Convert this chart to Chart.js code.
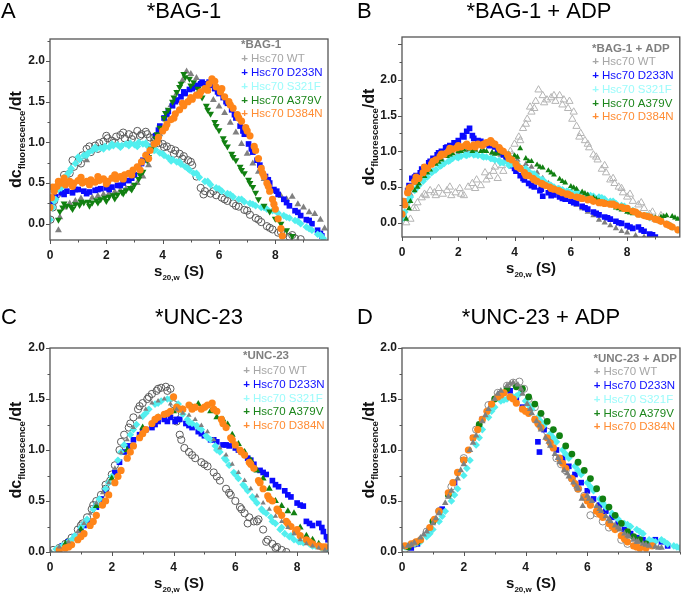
<!DOCTYPE html>
<html>
<head>
<meta charset="utf-8">
<script src="https://cdn.jsdelivr.net/npm/chart.js@4.4.0/dist/chart.umd.min.js"></script>
<style>
  body { margin: 0; background: #fff; width: 685px; height: 599px; position: relative; overflow: hidden; }
  canvas { position: absolute; }
</style>
</head>
<body>
<canvas id="chartA" style="left:0;top:0"></canvas>
<canvas id="chartB" style="left:342px;top:0"></canvas>
<canvas id="chartC" style="left:0;top:300px"></canvas>
<canvas id="chartD" style="left:342px;top:300px"></canvas>
<script>
// ---- labels ----
const panelLetters = ['A', 'B', 'C', 'D'];
const panelTitles = ['*BAG-1', '*BAG-1 + ADP', '*UNC-23', '*UNC-23 + ADP'];
const seriesNames = ['Hsc70 WT', 'Hsc70 D233N', 'Hsc70 S321F', 'Hsc70 A379V', 'Hsc70 D384N'];

// ---- panel A: *BAG-1 ----
const aRef = [[0.02,0.05],[0.1,0.2],[0.25,0.36],[0.4,0.48],[0.55,0.56],[0.7,0.62],[0.85,0.7],[1.0,0.76],[1.15,0.84],[1.3,0.92],[1.45,0.88],[1.6,0.96],[1.75,0.99],[1.9,1.01],[2.05,1.05],[2.2,1.02],[2.35,1.07],[2.5,1.09],[2.65,1.05],[2.8,1.1],[2.95,1.08],[3.1,1.14],[3.25,1.1],[3.4,1.13],[3.55,1.06],[3.7,1.02],[3.85,0.99],[4.0,0.98],[4.15,0.95],[4.3,0.92],[4.45,0.9],[4.6,0.86],[4.75,0.83],[4.9,0.78],[5.05,0.72],[5.2,0.58],[5.35,0.44],[5.5,0.4],[5.7,0.37],[5.9,0.35],[6.1,0.32],[6.3,0.28],[6.5,0.25],[6.7,0.21],[6.9,0.17],[7.1,0.11],[7.3,0.07],[7.5,0.02],[7.7,-0.03],[7.9,-0.07],[8.1,-0.11],[8.3,-0.13],[8.5,-0.16],[8.7,-0.18],[8.9,-0.19],
  [0.15,0.28],[0.5,0.6],[0.8,0.78],[1.1,0.74],[1.4,0.95],[1.7,0.92],[2.0,1.08],[2.3,1.0],[2.6,1.12],[2.9,1.04],[3.2,1.08],[3.45,1.1],[3.7,1.06],[4.05,0.94],[4.4,0.86],[4.7,0.8],[5.0,0.76],[5.45,0.36],[5.8,0.4],[6.2,0.3],[6.6,0.22],[7.0,0.16],[7.4,0.05],[7.8,-0.05],[8.2,-0.1],[8.6,-0.14]];
const aWT = [[0.3,-0.08],[0.35,0.08],[0.5,0.2],[0.7,0.25],[0.9,0.28],[1.1,0.31],[1.3,0.78],[1.5,0.32],[1.7,0.34],[1.9,0.36],[2.1,0.37],[2.3,0.39],[2.5,0.41],[2.7,0.43],[2.9,0.45],[3.1,0.5],[3.3,0.58],[3.5,0.72],[3.7,0.92],[3.9,1.1],[4.1,1.28],[4.3,1.46],[4.5,1.6],[4.7,1.76],[4.85,1.87],[5.0,1.84],[5.2,1.79],[5.4,1.72],[5.6,1.63],[5.8,1.52],[6.0,1.44],[6.2,1.36],[6.4,1.24],[6.6,1.12],[6.8,0.98],[7.0,0.86],[7.2,0.74],[7.4,0.64],[7.6,0.55],[7.8,0.47],[8.0,0.4],[8.2,0.34],[8.4,0.3],[8.6,0.33],[8.8,0.24],[9.0,0.2],[9.2,0.14],[9.4,0.12],[9.6,0.05],[9.75,-0.06]];
const aD233N = [[0.05,0.22],[0.2,0.33],[0.4,0.38],[0.6,0.4],[0.8,0.38],[1.0,0.42],[1.2,0.4],[1.4,0.39],[1.6,0.41],[1.8,0.43],[2.0,0.44],[2.2,0.45],[2.4,0.47],[2.6,0.5],[2.8,0.53],[3.0,0.6],[3.15,0.7],[3.3,0.78],[3.45,0.85],[3.6,0.95],[3.75,1.08],[3.9,1.2],[4.05,1.3],[4.2,1.38],[4.35,1.45],[4.5,1.52],[4.65,1.56],[4.8,1.6],[4.95,1.65],[5.1,1.68],[5.25,1.7],[5.4,1.74],[5.55,1.72],[5.7,1.7],[5.85,1.66],[6.0,1.6],[6.15,1.55],[6.3,1.48],[6.45,1.4],[6.6,1.3],[6.75,1.2],[6.9,1.1],[7.05,0.98],[7.2,0.88],[7.35,0.78],[7.5,0.68],[7.65,0.58],[7.8,0.5],[7.95,0.42],[8.1,0.36],[8.3,0.3],[8.5,0.22],[8.7,0.16],[8.9,0.1],[9.1,0.05],[9.3,0.0],[9.5,-0.08],[9.65,-0.15],
  [0.1,0.28],[0.5,0.36],[0.9,0.42],[1.3,0.37],[1.7,0.42],[2.1,0.42],[2.5,0.47],[2.9,0.56],[3.25,0.74],[3.55,0.92],[3.85,1.15],[4.15,1.34],[4.45,1.5],[4.75,1.62],[5.05,1.66],[5.35,1.72],[5.65,1.74],[5.95,1.62],[6.25,1.5],[6.55,1.34],[6.85,1.14],[7.15,0.92],[7.45,0.72],[7.75,0.54],[8.05,0.4],[8.4,0.26],[8.8,0.14],[9.2,0.04],[9.6,-0.12]];
const aS321F = [[0.0,0.05],[0.1,0.2],[0.2,0.3],[0.3,0.42],[0.45,0.52],[0.6,0.6],[0.75,0.68],[0.9,0.74],[1.05,0.79],[1.2,0.84],[1.35,0.87],[1.5,0.9],[1.65,0.92],[1.8,0.93],[1.95,0.95],[2.1,0.94],[2.25,0.96],[2.4,0.97],[2.55,0.96],[2.7,0.98],[2.85,0.99],[3.0,0.97],[3.15,1.0],[3.3,0.98],[3.45,0.96],[3.6,0.94],[3.75,0.91],[3.9,0.87],[4.05,0.84],[4.2,0.81],[4.35,0.79],[4.5,0.76],[4.65,0.73],[4.8,0.7],[4.95,0.66],[5.1,0.62],[5.3,0.57],[5.5,0.52],[5.7,0.48],[5.9,0.44],[6.1,0.4],[6.3,0.37],[6.5,0.33],[6.7,0.3],[6.9,0.27],[7.1,0.25],[7.3,0.22],[7.5,0.2],[7.7,0.18],[7.9,0.16],[8.1,0.13],[8.3,0.1],[8.5,0.07],[8.7,0.04],[8.9,0.0],[9.1,-0.04],[9.3,-0.08],[9.5,-0.13],[9.7,-0.18],
  [0.15,0.28],[0.4,0.44],[0.7,0.64],[1.0,0.82],[1.3,0.84],[1.6,0.94],[1.9,0.92],[2.2,0.98],[2.5,0.94],[2.8,0.96],[3.1,0.95],[3.4,0.99],[3.7,0.9],[4.0,0.86],[4.3,0.77],[4.6,0.76],[4.9,0.68],[5.2,0.62],[5.6,0.52],[6.0,0.43],[6.4,0.36],[6.8,0.3],[7.2,0.24],[7.6,0.2],[8.0,0.16],[8.4,0.08],[8.8,0.03],[9.2,-0.06],[9.6,-0.14]];
const aA379V = [[0.3,0.05],[0.35,0.15],[0.45,0.2],[0.6,0.22],[0.75,0.21],[0.9,0.24],[1.05,0.23],[1.2,0.26],[1.35,0.27],[1.5,0.26],[1.65,0.29],[1.8,0.3],[1.95,0.32],[2.1,0.33],[2.25,0.35],[2.4,0.36],[2.55,0.39],[2.7,0.41],[2.85,0.44],[3.0,0.48],[3.15,0.55],[3.3,0.64],[3.45,0.78],[3.6,0.92],[3.75,1.05],[3.9,1.18],[4.05,1.3],[4.2,1.4],[4.35,1.5],[4.5,1.62],[4.65,1.72],[4.8,1.8],[4.95,1.78],[5.1,1.74],[5.25,1.66],[5.4,1.55],[5.55,1.45],[5.7,1.35],[5.85,1.25],[6.0,1.15],[6.15,1.05],[6.3,0.95],[6.45,0.86],[6.6,0.78],[6.75,0.7],[6.9,0.62],[7.05,0.54],[7.2,0.45],[7.4,0.3],[7.6,0.22],[7.8,0.15],[8.0,0.06],[8.2,0.0],[8.4,-0.08],[8.6,-0.15],
  [0.5,0.25],[0.8,0.18],[1.1,0.27],[1.4,0.22],[1.7,0.26],[2.0,0.28],[2.3,0.31],[2.6,0.37],[2.9,0.42],[3.2,0.6],[3.5,0.82],[3.8,1.1],[4.1,1.36],[4.4,1.55],[4.6,1.68],[4.75,1.84],[5.0,1.7],[5.3,1.6],[5.6,1.4],[5.9,1.2],[6.2,1.0],[6.5,0.82],[6.8,0.66],[7.1,0.5],[7.3,0.38]];
const aD384N = [[0.0,0.2],[0.05,0.32],[0.15,0.4],[0.25,0.46],[0.4,0.5],[0.55,0.48],[0.7,0.52],[0.85,0.5],[1.0,0.53],[1.15,0.5],[1.3,0.52],[1.45,0.54],[1.6,0.51],[1.75,0.53],[1.9,0.55],[2.05,0.52],[2.2,0.56],[2.35,0.55],[2.5,0.58],[2.65,0.6],[2.8,0.62],[2.95,0.66],[3.1,0.7],[3.25,0.76],[3.4,0.84],[3.55,0.9],[3.7,0.98],[3.85,1.06],[4.0,1.14],[4.15,1.22],[4.3,1.28],[4.45,1.35],[4.6,1.4],[4.75,1.45],[4.9,1.5],[5.05,1.53],[5.2,1.58],[5.35,1.62],[5.5,1.66],[5.65,1.72],[5.75,1.78],[5.9,1.68],[6.05,1.62],[6.2,1.56],[6.35,1.5],[6.5,1.42],[6.65,1.34],[6.8,1.26],[6.95,1.18],[7.1,1.08],[7.25,0.95],[7.4,0.8],[7.5,0.68],[7.6,0.58],[7.7,0.5],[7.8,0.4],[7.9,0.3],[8.0,0.18],[8.1,0.06],[8.2,-0.06],[8.25,-0.15],
  [0.1,0.45],[0.3,0.52],[0.5,0.56],[0.8,0.46],[1.1,0.57],[1.4,0.48],[1.7,0.58],[2.0,0.49],[2.3,0.6],[2.6,0.55],[2.9,0.6],[3.2,0.66],[3.5,0.8],[3.8,1.0],[4.1,1.18],[4.4,1.3],[4.7,1.48],[5.0,1.55],[5.3,1.58],[5.6,1.64],[5.85,1.75],[6.1,1.66],[6.4,1.46],[6.7,1.3],[7.0,1.14],[7.3,0.9],[7.55,0.62],[7.75,0.46],[7.95,0.24]];

// ---- panel B: *BAG-1 + ADP ----
const bRef = [[0.15,0.0],[0.3,0.05],[0.4,0.2],[0.55,0.28],[0.7,0.35],[0.85,0.38],[1.0,0.45],[1.15,0.42],[1.3,0.48],[1.45,0.4],[1.6,0.45],[1.75,0.38],[1.9,0.42],[2.05,0.48],[2.2,0.38],[2.35,0.5],[2.5,0.55],[2.65,0.6],[2.8,0.52],[2.95,0.7],[3.1,0.65],[3.25,0.72],[3.4,0.62],[3.55,0.8],[3.7,0.9],[3.85,1.0],[4.0,1.1],[4.15,1.2],[4.3,1.32],[4.45,1.45],[4.6,1.55],[4.75,1.7],[4.85,1.86],[5.0,1.78],[5.15,1.72],[5.3,1.75],[5.45,1.7],[5.6,1.78],[5.75,1.72],[5.9,1.6],[6.05,1.45],[6.2,1.35],[6.35,1.25],[6.5,1.15],[6.65,1.05],[6.8,0.95],[6.95,0.88],[7.1,0.75],[7.25,0.7],[7.4,0.6],[7.55,0.55],[7.7,0.5],[7.85,0.42],[8.0,0.36],[8.2,0.3],[8.4,0.25],[8.6,0.2],[8.8,0.12],[9.0,0.05],
  [0.5,0.2],[0.8,0.4],[1.2,0.38],[1.7,0.5],[2.1,0.4],[2.6,0.48],[3.0,0.6],[3.3,0.78],[3.6,0.72],[3.9,0.95],[4.2,1.15],[4.4,1.38],[4.55,1.62],[4.7,1.6],[5.05,1.68],[5.4,1.78],[5.7,1.65],[5.95,1.7],[6.1,1.55],[6.3,1.2],[6.6,1.1],[6.9,0.92],[7.2,0.8],[7.5,0.62],[7.8,0.48],[8.1,0.4],[8.5,0.28],[8.9,0.15],[9.2,0.1]];
const bWT = [[0.1,0.08],[0.3,0.4],[0.5,0.55],[0.8,0.7],[1.1,0.82],[1.4,0.9],[1.7,0.95],[2.0,0.98],[2.3,1.0],[2.6,1.02],[2.9,1.0],[3.2,0.98],[3.5,0.95],[3.8,0.92],[4.1,0.88],[4.4,0.82],[4.6,0.78],[4.8,0.7],[5.0,0.62],[5.2,0.55],[5.4,0.48],[5.6,0.42],[5.8,0.36],[6.0,0.3],[6.2,0.25],[6.4,0.2],[6.6,0.15],[6.8,0.1],[7.0,0.04],[7.2,0.0],[7.4,-0.04],[7.6,-0.08],[7.8,-0.12],[8.0,-0.14],[8.3,-0.18],[8.6,-0.2]];
const bD233N = [[0.05,0.1],[0.15,0.3],[0.25,0.52],[0.35,0.62],[0.5,0.66],[0.65,0.7],[0.8,0.78],[0.95,0.84],[1.1,0.9],[1.25,0.95],[1.4,1.0],[1.55,1.05],[1.7,1.08],[1.85,1.12],[2.0,1.15],[2.15,1.22],[2.3,1.28],[2.4,1.32],[2.55,1.18],[2.7,1.15],[2.85,1.12],[3.0,1.1],[3.15,1.1],[3.3,1.06],[3.45,1.02],[3.6,0.95],[3.75,0.88],[3.9,0.8],[4.05,0.72],[4.2,0.66],[4.35,0.6],[4.5,0.55],[4.7,0.5],[4.9,0.45],[5.0,0.37],[5.2,0.42],[5.4,0.39],[5.6,0.36],[5.8,0.33],[6.0,0.3],[6.2,0.27],[6.4,0.23],[6.6,0.19],[6.8,0.15],[7.0,0.11],[7.2,0.08],[7.4,0.05],[7.6,0.02],[7.8,-0.01],[8.0,-0.04],[8.2,-0.08],[8.4,-0.06],[8.6,-0.12],[8.8,-0.16],[9.0,-0.2],
  [0.2,0.45],[0.45,0.64],[0.7,0.75],[1.0,0.86],[1.3,0.98],[1.6,1.06],[1.9,1.1],[2.2,1.2],[2.5,1.22],[2.8,1.14],[3.1,1.08],[3.4,1.0],[3.7,0.92],[4.0,0.76],[4.3,0.62],[4.6,0.52],[4.95,0.47],[5.3,0.38],[5.7,0.34],[6.1,0.28],[6.5,0.21],[6.9,0.13],[7.3,0.07],[7.7,0.0],[8.1,-0.06],[8.5,-0.1],[8.9,-0.17]];
const bS321F = [[0.0,0.05],[0.1,0.15],[0.2,0.28],[0.3,0.36],[0.45,0.45],[0.6,0.52],[0.75,0.58],[0.9,0.64],[1.05,0.7],[1.2,0.74],[1.35,0.79],[1.5,0.83],[1.65,0.86],[1.8,0.9],[1.95,0.92],[2.1,0.93],[2.25,0.95],[2.4,0.96],[2.55,0.95],[2.7,0.94],[2.85,0.93],[3.0,0.92],[3.15,0.9],[3.3,0.88],[3.45,0.87],[3.6,0.84],[3.75,0.85],[3.9,0.82],[4.05,0.8],[4.2,0.77],[4.35,0.74],[4.5,0.72],[4.65,0.68],[4.8,0.64],[4.95,0.6],[5.1,0.56],[5.25,0.53],[5.4,0.5],[5.55,0.48],[5.7,0.46],[5.85,0.44],[6.0,0.43],[6.2,0.42],[6.4,0.4],[6.6,0.38],[6.8,0.37],[7.0,0.36],[7.2,0.33],[7.4,0.3],[7.6,0.27],[7.8,0.24],[8.0,0.2],[8.2,0.17],[8.4,0.13],[8.6,0.1],[8.8,0.07],[9.0,0.05],[9.2,0.02],[9.4,-0.02],[9.6,-0.06],[9.8,-0.1],
  [0.05,0.1],[0.25,0.32],[0.5,0.48],[0.8,0.62],[1.1,0.72],[1.4,0.8],[1.7,0.87],[2.0,0.91],[2.3,0.94],[2.6,0.96],[2.9,0.92],[3.2,0.9],[3.5,0.84],[3.8,0.8],[4.1,0.82],[4.4,0.76],[4.7,0.68],[5.0,0.6],[5.3,0.52],[5.6,0.47],[5.9,0.44],[6.3,0.41],[6.7,0.38],[7.1,0.35],[7.5,0.3],[7.9,0.23],[8.3,0.15],[8.7,0.1],[9.1,0.04],[9.5,-0.03]];
const bA379V = [[0.15,0.05],[0.3,0.3],[0.45,0.45],[0.6,0.55],[0.8,0.65],[1.0,0.74],[1.2,0.82],[1.4,0.88],[1.6,0.93],[1.8,0.97],[2.0,1.0],[2.2,1.02],[2.4,1.03],[2.6,1.02],[2.8,1.0],[3.0,1.0],[3.2,0.98],[3.4,0.97],[3.6,0.98],[3.8,0.96],[4.0,0.94],[4.2,1.04],[4.4,0.9],[4.6,0.86],[4.8,0.81],[5.0,0.77],[5.2,0.73],[5.4,0.67],[5.6,0.61],[5.8,0.56],[6.0,0.51],[6.2,0.47],[6.4,0.43],[6.6,0.39],[6.8,0.35],[7.0,0.31],[7.2,0.28],[7.4,0.25],[7.6,0.21],[7.8,0.18],[8.0,0.15],[8.2,0.13],[8.4,0.11],[8.6,0.09],[8.8,0.08],[9.0,0.07],[9.2,0.08],[9.4,0.1],[9.6,0.09],[9.8,0.05],
  [0.25,0.2],[0.55,0.5],[0.9,0.7],[1.3,0.85],[1.7,0.95],[2.1,1.0],[2.5,1.0],[2.9,1.01],[3.3,0.96],[3.7,0.94],[4.1,0.92],[4.5,0.86],[4.9,0.78],[5.3,0.7],[5.7,0.58],[6.1,0.49],[6.5,0.41],[6.9,0.33],[7.3,0.26],[7.7,0.2],[8.1,0.14],[8.5,0.1],[8.9,0.07],[9.3,0.09],[9.7,0.07]];
const bD384N = [[0.0,0.12],[0.1,0.25],[0.2,0.42],[0.3,0.5],[0.45,0.58],[0.6,0.62],[0.75,0.7],[0.9,0.76],[1.05,0.82],[1.2,0.88],[1.35,0.93],[1.5,0.96],[1.65,1.0],[1.8,1.03],[1.95,1.05],[2.1,1.06],[2.25,1.08],[2.4,1.06],[2.55,1.09],[2.7,1.1],[2.85,1.08],[3.0,1.12],[3.15,1.15],[3.3,1.1],[3.45,1.05],[3.6,1.0],[3.75,0.95],[3.9,0.88],[4.05,0.82],[4.2,0.76],[4.35,0.7],[4.5,0.66],[4.65,0.62],[4.8,0.58],[4.95,0.55],[5.1,0.52],[5.25,0.5],[5.4,0.47],[5.55,0.45],[5.7,0.42],[5.85,0.4],[6.0,0.38],[6.2,0.36],[6.4,0.34],[6.6,0.32],[6.8,0.3],[7.0,0.28],[7.2,0.27],[7.4,0.26],[7.6,0.24],[7.8,0.22],[8.0,0.2],[8.2,0.16],[8.4,0.12],[8.6,0.1],[8.8,0.08],[9.0,0.05],[9.2,0.02],[9.4,-0.02],[9.6,-0.06],[9.8,-0.1],
  [0.05,0.3],[0.25,0.48],[0.5,0.64],[0.8,0.78],[1.1,0.86],[1.4,0.96],[1.7,1.04],[2.0,1.08],[2.3,1.1],[2.6,1.06],[2.9,1.1],[3.2,1.12],[3.5,1.02],[3.8,0.9],[4.1,0.78],[4.4,0.66],[4.7,0.6],[5.0,0.54],[5.3,0.48],[5.6,0.44],[5.9,0.4],[6.3,0.35],[6.7,0.33],[7.1,0.28],[7.5,0.26],[7.9,0.2],[8.3,0.15],[8.7,0.09],[9.1,0.04],[9.5,-0.04]];

// ---- panel C: *UNC-23 ----
const cRef = [[0.1,0.02],[0.3,0.04],[0.5,0.08],[0.7,0.14],[0.9,0.22],[1.05,0.28],[1.2,0.34],[1.35,0.42],[1.5,0.5],[1.65,0.56],[1.8,0.62],[1.95,0.7],[2.1,0.85],[2.25,1.0],[2.4,1.15],[2.55,1.22],[2.7,1.32],[2.85,1.4],[3.0,1.46],[3.15,1.5],[3.3,1.55],[3.45,1.58],[3.6,1.61],[3.75,1.62],[3.9,1.6],[4.0,1.45],[4.1,1.28],[4.2,1.15],[4.35,1.02],[4.5,0.98],[4.7,0.92],[4.9,0.88],[5.1,0.84],[5.3,0.78],[5.5,0.7],[5.7,0.62],[5.85,0.56],[6.0,0.5],[6.15,0.44],[6.3,0.38],[6.45,0.34],[6.6,0.3],[6.75,0.32],[6.9,0.22],[7.05,0.12],[7.2,0.08],[7.35,0.05],[7.5,0.02],[7.65,0.0],
  [0.6,0.1],[1.0,0.26],[1.4,0.46],[1.8,0.66],[2.0,0.76],[2.3,1.08],[2.6,1.26],[2.9,1.43],[3.2,1.52],[3.5,1.6],[3.8,1.58],[4.05,1.35],[4.25,1.1],[4.6,0.95],[5.0,0.86],[5.4,0.74],[5.8,0.58],[6.2,0.42],[6.4,0.28],[6.7,0.3],[7.0,0.1],[7.3,0.04]];
const cWT = [[0.0,0.02],[0.3,0.05],[0.6,0.1],[0.9,0.2],[1.1,0.28],[1.3,0.38],[1.5,0.48],[1.7,0.58],[1.9,0.68],[2.1,0.82],[2.3,0.97],[2.5,1.1],[2.7,1.22],[2.9,1.32],[3.1,1.4],[3.3,1.46],[3.5,1.48],[3.7,1.5],[3.9,1.45],[4.1,1.4],[4.3,1.36],[4.5,1.34],[4.7,1.3],[4.9,1.24],[5.1,1.18],[5.3,1.1],[5.5,1.02],[5.7,0.95],[5.9,0.86],[6.1,0.78],[6.3,0.7],[6.5,0.62],[6.7,0.55],[6.9,0.48],[7.1,0.42],[7.3,0.35],[7.5,0.3],[7.7,0.24],[7.9,0.18],[8.1,0.12],[8.3,0.08],[8.5,0.06],[8.7,0.04],[8.9,0.02]];
const cD233N = [[0.4,0.06],[0.6,0.1],[0.8,0.15],[1.0,0.22],[1.2,0.3],[1.5,0.44],[1.8,0.6],[2.1,0.78],[2.4,0.98],[2.7,1.1],[2.9,1.15],[3.1,1.2],[3.3,1.22],[3.5,1.28],[3.7,1.3],[3.9,1.32],[4.05,1.28],[4.2,1.3],[4.4,1.26],[4.6,1.22],[4.8,1.18],[5.0,1.14],[5.2,1.1],[5.4,1.08],[5.6,1.05],[5.8,1.04],[6.0,1.02],[6.2,0.98],[6.4,0.92],[6.6,0.86],[6.8,0.8],[7.0,0.76],[7.2,0.7],[7.4,0.64],[7.6,0.6],[7.8,0.54],[8.0,0.48],[8.2,0.45],[8.3,0.3],[8.5,0.26],[8.7,0.28],[8.85,0.2],[9.0,0.12],
  [1.1,0.26],[1.65,0.52],[2.25,0.88],[2.55,1.04],[3.0,1.18],[3.4,1.25],[3.8,1.28],[4.1,1.3],[4.5,1.24],[4.9,1.16],[5.3,1.1],[5.7,1.05],[6.1,1.0],[6.5,0.9],[6.9,0.78],[7.3,0.66],[7.7,0.56],[8.1,0.46],[8.4,0.28],[8.8,0.24],[8.95,0.15]];
const cS321F = [[0.0,0.0],[0.2,0.03],[0.4,0.06],[0.6,0.1],[0.8,0.16],[1.0,0.24],[1.2,0.32],[1.4,0.42],[1.6,0.52],[1.8,0.62],[2.0,0.74],[2.2,0.9],[2.4,1.05],[2.6,1.15],[2.8,1.25],[3.0,1.33],[3.2,1.4],[3.4,1.45],[3.6,1.48],[3.8,1.5],[4.0,1.52],[4.15,1.45],[4.3,1.35],[4.45,1.3],[4.6,1.26],[4.75,1.24],[4.9,1.2],[5.05,1.14],[5.2,1.1],[5.35,1.04],[5.5,0.98],[5.65,0.92],[5.8,0.85],[5.95,0.78],[6.1,0.72],[6.25,0.66],[6.4,0.6],[6.55,0.54],[6.7,0.48],[6.85,0.42],[7.0,0.38],[7.15,0.34],[7.3,0.28],[7.45,0.22],[7.6,0.18],[7.75,0.15],[7.9,0.12],[8.05,0.1],[8.2,0.09],[8.4,0.08],[8.6,0.06],[8.8,0.04],[9.0,0.02],
  [0.3,0.04],[0.7,0.12],[1.1,0.28],[1.5,0.47],[1.9,0.68],[2.3,0.98],[2.7,1.2],[3.1,1.36],[3.5,1.46],[3.9,1.5],[4.2,1.4],[4.5,1.27],[4.8,1.22],[5.1,1.12],[5.4,1.0],[5.7,0.9],[6.0,0.76],[6.3,0.64],[6.6,0.52],[6.9,0.4],[7.2,0.3],[7.5,0.24],[7.8,0.16],[8.1,0.1],[8.5,0.06],[8.9,0.04]];
const cA379V = [[0.5,0.08],[1.0,0.22],[1.5,0.45],[2.0,0.72],[2.5,1.0],[3.0,1.22],[3.5,1.32],[4.0,1.38],[4.3,1.4],[4.6,1.42],[4.8,1.45],[5.0,1.42],[5.2,1.38],[5.4,1.32],[5.6,1.3],[5.75,1.25],[5.9,1.15],[6.1,1.06],[6.3,0.98],[6.5,0.9],[6.7,0.8],[6.9,0.72],[7.1,0.62],[7.3,0.5],[7.5,0.45],[7.7,0.4],[7.9,0.38],[8.1,0.24],[8.3,0.16],[8.5,0.12],[8.7,0.08]];
const cD384N = [[0.3,0.02],[0.5,0.04],[0.7,0.07],[0.9,0.12],[1.1,0.18],[1.3,0.26],[1.5,0.36],[1.7,0.46],[1.9,0.56],[2.1,0.68],[2.3,0.8],[2.5,0.92],[2.7,1.04],[2.9,1.12],[3.1,1.2],[3.3,1.26],[3.5,1.32],[3.7,1.35],[3.9,1.38],[4.0,1.52],[4.1,1.42],[4.3,1.4],[4.5,1.44],[4.7,1.42],[4.9,1.4],[5.1,1.44],[5.25,1.46],[5.4,1.38],[5.55,1.3],[5.7,1.22],[5.85,1.12],[6.0,1.05],[6.15,1.0],[6.3,0.95],[6.45,0.88],[6.6,0.82],[6.75,0.7],[6.9,0.62],[7.05,0.55],[7.2,0.5],[7.35,0.42],[7.5,0.36],[7.65,0.3],[7.8,0.25],[7.95,0.2],[8.1,0.16],[8.3,0.12],[8.5,0.08],[8.7,0.06],[8.9,0.05],
  [0.6,0.05],[1.0,0.15],[1.4,0.3],[1.8,0.5],[2.2,0.74],[2.6,0.98],[3.0,1.16],[3.4,1.3],[3.8,1.36],[4.2,1.4],[4.6,1.4],[5.0,1.42],[5.3,1.4],[5.6,1.26],[5.9,1.1],[6.2,0.98],[6.5,0.86],[6.8,0.68],[7.1,0.52],[7.4,0.4],[7.7,0.28],[8.0,0.22],[8.4,0.1],[8.8,0.05]];

// ---- panel D: *UNC-23 + ADP ----
const dRef = [[0.1,0.03],[0.4,0.08],[0.8,0.2],[1.2,0.4],[1.6,0.64],[2.0,0.92],[2.4,1.2],[2.8,1.44],[3.1,1.56],[3.4,1.63],[3.6,1.66],[3.8,1.67],[3.95,1.6],[4.1,1.5],[4.3,1.42],[4.5,1.3],[4.7,1.18],[4.85,1.05],[5.0,0.92],[5.15,0.86],[5.3,0.8],[5.5,0.72],[5.7,0.62],[5.9,0.55],[6.1,0.36],[6.3,0.38],[6.5,0.3],[6.7,0.24],[6.9,0.25],[7.1,0.12],[7.3,0.08]];
const dWT = [[0.0,0.05],[0.2,0.06],[0.4,0.09],[0.6,0.14],[0.8,0.2],[1.0,0.28],[1.2,0.38],[1.4,0.48],[1.6,0.6],[1.8,0.72],[2.0,0.86],[2.2,1.0],[2.4,1.14],[2.6,1.28],[2.8,1.4],[3.0,1.5],[3.2,1.58],[3.4,1.63],[3.6,1.66],[3.75,1.64],[3.9,1.55],[4.05,1.45],[4.2,1.36],[4.35,1.28],[4.5,1.2],[4.65,1.12],[4.8,1.04],[4.95,0.96],[5.1,0.88],[5.25,0.8],[5.4,0.74],[5.55,0.68],[5.7,0.62],[5.82,0.52],[5.85,0.45],[6.0,0.55],[6.15,0.5],[6.3,0.45],[6.45,0.4],[6.6,0.35],[6.75,0.3],[6.9,0.26],[7.05,0.22],[7.2,0.18],[7.35,0.15],[7.5,0.12],[7.65,0.1],[7.8,0.08],[8.0,0.06],[8.2,0.05],[8.4,0.04],
  [0.3,0.07],[0.7,0.17],[1.1,0.33],[1.5,0.54],[1.9,0.8],[2.3,1.07],[2.7,1.34],[3.1,1.55],[3.5,1.65],[3.85,1.6],[4.15,1.4],[4.45,1.24],[4.75,1.08],[5.05,0.92],[5.35,0.77],[5.65,0.64],[6.05,0.52],[6.4,0.42],[6.7,0.32],[7.0,0.24],[7.3,0.16],[7.6,0.1],[7.9,0.07],[8.3,0.04]];
const dD233N = [[0.3,0.04],[0.5,0.08],[0.9,0.22],[1.3,0.42],[1.7,0.68],[2.0,0.9],[2.3,1.12],[2.6,1.3],[2.9,1.45],[3.2,1.55],[3.5,1.58],[3.7,1.5],[3.9,1.42],[4.1,1.38],[4.3,1.3],[4.4,1.08],[4.45,0.98],[4.6,1.2],[4.8,1.1],[5.0,1.0],[5.2,0.92],[5.4,0.84],[5.6,0.76],[5.8,0.68],[6.0,0.6],[6.2,0.52],[6.4,0.46],[6.6,0.4],[6.8,0.34],[7.0,0.28],[7.2,0.22],[7.4,0.18],[7.6,0.14],[7.8,0.12],[8.0,0.1],[8.2,0.12],[8.4,0.1],[8.6,0.06]];
const dS321F = [[0.0,0.05],[0.2,0.06],[0.4,0.08],[0.6,0.1],[0.8,0.15],[1.0,0.22],[1.2,0.3],[1.4,0.4],[1.6,0.5],[1.8,0.62],[2.0,0.75],[2.2,0.9],[2.4,1.05],[2.6,1.2],[2.8,1.32],[3.0,1.42],[3.2,1.48],[3.4,1.5],[3.6,1.52],[3.8,1.55],[4.0,1.48],[4.2,1.4],[4.4,1.32],[4.6,1.24],[4.8,1.16],[5.0,1.08],[5.2,1.0],[5.4,0.92],[5.6,0.84],[5.8,0.76],[6.0,0.68],[6.2,0.6],[6.4,0.52],[6.6,0.44],[6.8,0.38],[7.0,0.32],[7.2,0.28],[7.4,0.25],[7.6,0.22],[7.8,0.18],[8.0,0.12],[8.2,0.1],[8.4,0.12],[8.6,0.08],[8.8,0.06],[9.0,0.04],
  [0.1,0.05],[0.5,0.09],[0.9,0.18],[1.3,0.35],[1.7,0.56],[2.1,0.82],[2.5,1.12],[2.9,1.38],[3.3,1.49],[3.7,1.53],[4.1,1.44],[4.5,1.28],[4.9,1.12],[5.3,0.96],[5.7,0.8],[6.1,0.64],[6.5,0.48],[6.9,0.35],[7.3,0.27],[7.7,0.2],[8.1,0.11],[8.5,0.1],[8.9,0.05]];
const dA379V = [[0.2,0.05],[0.5,0.1],[1.0,0.3],[1.5,0.56],[2.0,0.9],[2.5,1.25],[3.0,1.5],[3.4,1.6],[3.7,1.62],[3.9,1.6],[4.1,1.52],[4.3,1.45],[4.5,1.36],[4.7,1.28],[4.9,1.2],[5.1,1.14],[5.3,1.04],[5.5,0.96],[5.7,0.88],[5.9,0.8],[6.1,0.72],[6.3,0.62],[6.5,0.52],[6.7,0.44],[6.9,0.36],[7.1,0.28],[7.3,0.2],[7.5,0.15],[7.7,0.12],[7.9,0.08]];
const dD384N = [[0.1,0.06],[0.3,0.08],[0.6,0.12],[0.9,0.24],[1.2,0.4],[1.5,0.58],[1.8,0.78],[2.0,0.9],[2.3,1.12],[2.6,1.3],[2.9,1.45],[3.1,1.52],[3.3,1.56],[3.5,1.52],[3.7,1.46],[3.9,1.4],[4.1,1.36],[4.3,1.3],[4.5,1.22],[4.7,1.12],[4.9,1.02],[5.1,0.92],[5.3,0.82],[5.5,0.72],[5.7,0.62],[5.9,0.54],[6.1,0.46],[6.3,0.4],[6.5,0.34],[6.7,0.28],[6.9,0.22],[7.1,0.16],[7.3,0.1],[7.5,0.06],[7.7,0.04],[7.9,0.04],[8.1,0.06],
  [0.45,0.1],[1.05,0.32],[1.65,0.68],[2.15,1.0],[2.45,1.2],[2.75,1.38],[3.2,1.54],[3.6,1.5],[4.0,1.38],[4.4,1.26],[4.8,1.07],[5.2,0.87],[5.6,0.67],[6.0,0.5],[6.4,0.37],[6.8,0.25],[7.2,0.13],[7.6,0.05]];

// ---- styles ----
const seriesColors = ['#808080', '#0a0aff', '#52efef', '#118011', '#ff8519'];
const legendColors = ['#a6a6a6', '#1010ff', '#9cfbfb', '#1c861c', '#ff8c33'];
const FONT = 'Arial, "Liberation Sans", sans-serif';
Chart.defaults.font.family = FONT;

// marker shape for [ref, WT, D233N, S321F, A379V, D384N] in each panel
const markersA = [['circle', 0, 3.6], ['triangle', 0, 4], ['rect', 0, 4], ['rectRot', 0, 3.8], ['triangle', 180, 4], ['circle', 0, 3.6]];
const markersB = [['triangle', 0, 4.2], ['triangle', 0, 3.6], ['rect', 0, 4], ['rectRot', 0, 3.8], ['triangle', 0, 3.4], ['circle', 0, 3.6]];
const markersC = [['circle', 0, 3.6], ['triangle', 0, 3], ['rect', 0, 4], ['rectRot', 0, 3.8], ['triangle', 0, 4], ['circle', 0, 3.6]];
const markersD = [['circle', 0, 3.6], ['triangle', 0, 3.8], ['rect', 0, 4], ['rectRot', 0, 3.8], ['circle', 0, 3.4], ['circle', 0, 3.6]];

// drawing order per panel (lower = drawn later, on top)
const orderAB = [10, 9, 8, 7, 6, 5];
const orderCD = [10, 4, 8, 7, 6, 5];

const panels = [
  { id: 'chartA', w: 342, h: 300, area: [50, 328, 39, 240], xMax: 9.87, yMin: -0.2, yMax: 2.27,
    series: [aRef, aWT, aD233N, aS321F, aA379V, aD384N], markers: markersA, order: orderAB, refColor: '#5a5a5a',
    letterX: 1, titleX: 184, titleY: 12, yTitleX: 21, xTitleX: 179, xTitleY: 276,
    legX: 241, legTitleY: 45, legY: 59, legStep: 13.8 },
  { id: 'chartB', w: 343, h: 300, area: [60, 338, 37, 237], xMax: 9.87, yMin: -0.2, yMax: 2.6,
    series: [bRef, bWT, bD233N, bS321F, bA379V, bD384N], markers: markersB, order: orderAB, refColor: '#b4b4b4',
    letterX: 15, titleX: 197, titleY: 12, yTitleX: 32, xTitleX: 189, xTitleY: 273,
    legX: 250, legTitleY: 49, legY: 62.3, legStep: 13.7 },
  { id: 'chartC', w: 342, h: 299, area: [50, 328, 48, 252], xMax: 9, yMin: 0, yMax: 2,
    series: [cRef, cWT, cD233N, cS321F, cA379V, cD384N], markers: markersC, order: orderCD, refColor: '#5a5a5a',
    letterX: 1, titleX: 199, titleY: 18, yTitleX: 21, xTitleX: 179, xTitleY: 288,
    legX: 243, legTitleY: 56, legY: 71.2, legStep: 13.7 },
  { id: 'chartD', w: 343, h: 299, area: [60, 338, 48, 252], xMax: 9, yMin: 0, yMax: 2,
    series: [dRef, dWT, dD233N, dS321F, dA379V, dD384N], markers: markersD, order: orderCD, refColor: '#8c8c8c',
    letterX: 15, titleX: 199, titleY: 18, yTitleX: 32, xTitleX: 189, xTitleY: 288,
    legX: 251.5, legTitleY: 58.7, legY: 72.3, legStep: 13.7 }
];

function isMultiple(v, step) {
  return Math.abs(v / step - Math.round(v / step)) < 1e-6;
}

// text made of pieces with baseline shifts (for subscripts)
function drawPieces(ctx, pieces, cx, cy, rotate) {
  let total = 0;
  pieces.forEach(p => { ctx.font = p.font; p.w = ctx.measureText(p.text).width; total += p.w; });
  ctx.save();
  ctx.translate(cx, cy);
  if (rotate) ctx.rotate(-Math.PI / 2);
  ctx.textAlign = 'left';
  ctx.textBaseline = 'alphabetic';
  ctx.fillStyle = '#111';
  let pos = -total / 2;
  pieces.forEach(p => { ctx.font = p.font; ctx.fillText(p.text, pos, p.dy); pos += p.w; });
  ctx.restore();
}

const panelDecor = {
  id: 'panelDecor',
  afterDraw(chart, args, o) {
    const { ctx, chartArea: a } = chart;
    const x = chart.scales.x, y = chart.scales.y;
    ctx.save();

    // frame
    ctx.strokeStyle = '#555';
    ctx.lineWidth = 1.3;
    ctx.strokeRect(a.left, a.top, a.right - a.left, a.bottom - a.top);

    // major + minor ticks, outward
    ctx.lineWidth = 1;
    ctx.beginPath();
    for (let v = 0; v <= x.max + 1e-9; v += 1) {
      const px = Math.round(x.getPixelForValue(v)) + 0.5;
      const len = v % 2 === 0 ? 4 : 2.5;
      ctx.moveTo(px, a.bottom);
      ctx.lineTo(px, a.bottom + len);
    }
    for (let k = Math.ceil(y.min / 0.25); k * 0.25 <= y.max + 1e-9; k++) {
      const py = Math.round(y.getPixelForValue(k * 0.25)) + 0.5;
      const len = k % 2 === 0 ? 4 : 2.5;
      ctx.moveTo(a.left, py);
      ctx.lineTo(a.left - len, py);
    }
    ctx.stroke();

    // panel letter and title
    ctx.fillStyle = '#000';
    ctx.font = '22px ' + FONT;
    ctx.textBaseline = 'middle';
    ctx.textAlign = 'left';
    ctx.fillText(o.letter, o.letterX, o.titleY);
    ctx.textAlign = 'center';
    ctx.fillText(o.title, o.titleX, o.titleY);

    // axis titles
    drawPieces(ctx, [
      { text: 'dc', font: 'bold 16px ' + FONT, dy: 0 },
      { text: 'fluorescence', font: 'bold 9.5px ' + FONT, dy: 3.5 },
      { text: '/dt', font: 'bold 16px ' + FONT, dy: 0 }
    ], o.yTitleX, (a.top + a.bottom) / 2, true);
    drawPieces(ctx, [
      { text: 's', font: 'bold 15px ' + FONT, dy: 0 },
      { text: '20,w', font: 'bold 8px ' + FONT, dy: 4 },
      { text: ' (S)', font: 'bold 15px ' + FONT, dy: 0 }
    ], o.xTitleX, o.xTitleY, false);

    // legend inside the plot
    ctx.textAlign = 'left';
    ctx.textBaseline = 'middle';
    ctx.font = 'bold 11.5px ' + FONT;
    ctx.fillStyle = '#7f7f7f';
    ctx.fillText(o.title, o.legX, o.legTitleY);
    seriesNames.forEach((name, i) => {
      const ly = o.legY + i * o.legStep;
      ctx.fillStyle = legendColors[i];
      ctx.font = 'bold 11.5px ' + FONT;
      ctx.textAlign = 'center';
      ctx.fillText('+', o.legX + 3.5, ly);
      ctx.font = '11.5px ' + FONT;
      ctx.textAlign = 'left';
      ctx.fillText(name, o.legX + 10, ly);
    });
    ctx.restore();
  }
};

panels.forEach((p, pi) => {
  const canvas = document.getElementById(p.id);
  canvas.width = p.w;
  canvas.height = p.h;
  const [left, right, top, bottom] = p.area;

  const datasets = p.series.map((pts, i) => {
    const [shape, rot, r] = p.markers[i];
    const isRef = i === 0;
    const color = isRef ? p.refColor : seriesColors[i - 1];
    return {
      label: isRef ? panelTitles[pi] : seriesNames[i - 1],
      data: pts.map(q => ({ x: q[0], y: q[1] })),
      pointStyle: shape,
      rotation: rot,
      pointRadius: r,
      backgroundColor: isRef ? 'rgba(255,255,255,0)' : color,
      borderColor: color,
      borderWidth: isRef ? 1 : 0,
      showLine: false,
      order: p.order[i]
    };
  });

  new Chart(canvas, {
    type: 'scatter',
    data: { datasets },
    options: {
      responsive: false,
      animation: false,
      events: [],
      layout: { padding: { left: 0, right: p.w - right, top: top, bottom: 0 } },
      plugins: {
        legend: { display: false },
        tooltip: { enabled: false },
        panelDecor: {
          letter: panelLetters[pi], title: panelTitles[pi],
          letterX: p.letterX, titleX: p.titleX, titleY: p.titleY,
          yTitleX: p.yTitleX, xTitleX: p.xTitleX, xTitleY: p.xTitleY,
          legX: p.legX, legTitleY: p.legTitleY, legY: p.legY, legStep: p.legStep
        }
      },
      scales: {
        x: {
          type: 'linear', min: 0, max: p.xMax,
          grid: { display: false, drawTicks: false },
          border: { display: false },
          ticks: { stepSize: 2, padding: 8, color: '#1a1a1a', font: { size: 12, weight: 'bold' }, callback: v => String(v) },
          afterBuildTicks: s => { s.ticks = s.ticks.filter(t => isMultiple(t.value, 2)); },
          afterFit: s => { s.height = p.h - bottom; }
        },
        y: {
          type: 'linear', min: p.yMin, max: p.yMax,
          grid: { display: false, drawTicks: false },
          border: { display: false },
          ticks: { stepSize: 0.5, padding: 5, color: '#1a1a1a', font: { size: 12, weight: 'bold' }, callback: v => Number(v).toFixed(1) },
          afterBuildTicks: s => { s.ticks = s.ticks.filter(t => isMultiple(t.value, 0.5)); },
          afterFit: s => { s.width = left; }
        }
      }
    },
    plugins: [panelDecor]
  });
});
</script>
</body>
</html>
